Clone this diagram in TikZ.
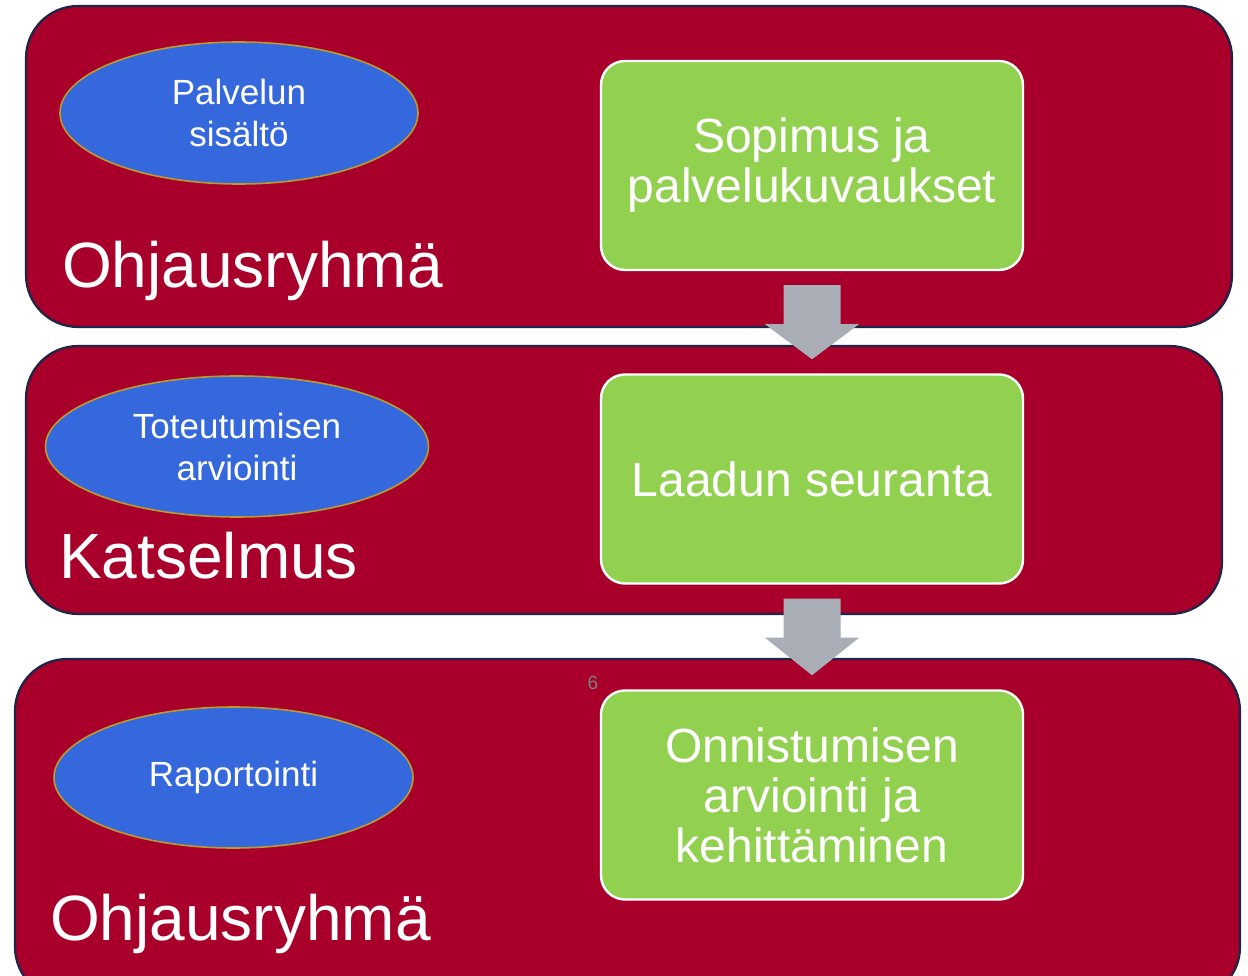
\documentclass[tikz,border=0pt]{standalone}
\usepackage{fontspec}
\setmainfont{Liberation Sans}
\usetikzlibrary{shapes.geometric,calc}
\definecolor{panelred}{HTML}{A8002A}
\definecolor{panelline}{HTML}{1E2546}
\definecolor{boxgreen}{HTML}{92D050}
\definecolor{ellblue}{HTML}{3468DC}
\definecolor{ellline}{HTML}{BC9A2C}
\definecolor{arrowgray}{HTML}{A9ADB5}
\tikzset{
  panel/.style={draw=panelline, line width=2.2pt, fill=panelred, rounded corners=52pt, inner sep=0pt},
  greenbox/.style={draw=white, line width=2.4pt, fill=boxgreen, rounded corners=24pt, inner sep=0pt,
     minimum width=422pt, minimum height=209pt, text=white, align=center,
     font=\fontsize{48}{50}\selectfont},
  oval/.style={ellipse, draw=ellline, line width=1.6pt, fill=ellblue, inner sep=0pt, text=white,
     align=center, font=\fontsize{35}{42}\selectfont},
  biglabel/.style={anchor=base west, text=white, inner sep=0pt, font=\fontsize{64}{70}\selectfont},
  blockarrow/.style={fill=arrowgray, draw=none}
}
\begin{document}
\begin{tikzpicture}[x=1pt,y=-1pt]
\useasboundingbox (0,0) rectangle (1248,976);
\clip (0,0) rectangle (1248,976);
\fill[white] (0,0) rectangle (1248,976);
% panels
\node[panel, minimum width=1206pt, minimum height=321pt] (p1) at (629,166.5) {};
\node[panel, minimum width=1196pt, minimum height=268pt] (p2) at (624,480) {};
\node[panel, minimum width=1225pt, minimum height=340pt] (p3) at (627.5,829) {};
% green boxes
\node[greenbox] (g1) at (812,165.5) {Sopimus ja\\palvelukuvaukset};
\node[greenbox] (g2) at (812,479) {Laadun seuranta};
\node[greenbox] (g3) at (812,795) {Onnistumisen\\arviointi ja\\kehittäminen};
% ellipses
\node[oval, minimum width=358pt, minimum height=142pt] (e1) at (239,113) {Palvelun\\sisältö};
\node[oval, minimum width=383pt, minimum height=141pt] (e2) at (237,446.5) {Toteutumisen\\arviointi};
\node[oval, minimum width=359pt, minimum height=141pt] (e3) at (233.5,777.5) {\raisebox{-3pt}{Raportointi}};
% big labels
\node[biglabel] (l1) at (62,288) {Ohjausryhmä};
\node[biglabel] (l2) at (59,578) {Katselmus};
\node[biglabel] (l3) at (50,940) {Ohjausryhmä};
% page number
\node[text=gray, font=\fontsize{19}{22}\selectfont, inner sep=0pt] (pn) at (593,683) {6};
% block arrows
\foreach \a/\b in {g1/g2, g2/g3}{
  \coordinate (t) at ($(\a.south)+(0,14)$);
  \fill[blockarrow] ($(t)+(-28.5,0)$) -- ($(t)+(28.5,0)$) -- ($(t)+(28.5,39)$) -- ($(t)+(47,39)$)
     -- ($(\b.north)+(0,-14)$) -- ($(t)+(-47,39)$) -- ($(t)+(-28.5,39)$) -- cycle;
}
\end{tikzpicture}
\end{document}
